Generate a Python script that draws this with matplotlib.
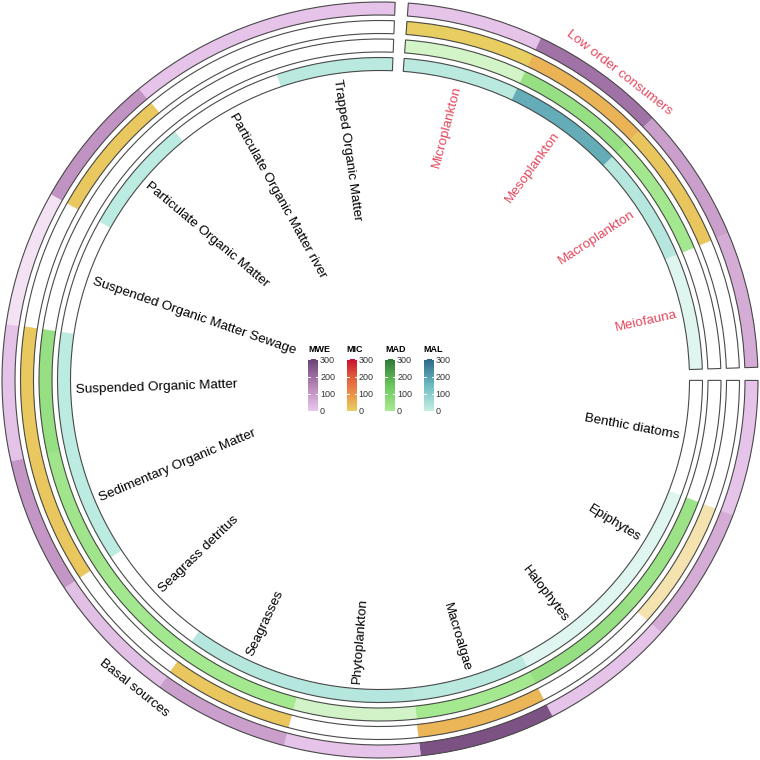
import numpy as np
import matplotlib
matplotlib.use('Agg')
import matplotlib.pyplot as plt
from matplotlib.colors import LinearSegmentedColormap, to_rgba

plt.rcParams['font.family'] = ['Liberation Sans', 'DejaVu Sans']

# sectors and their items (clockwise from the top gap)
low_items = ['Microplankton', 'Mesoplankton', 'Macroplankton', 'Meiofauna']
basal_items = ['Benthic diatoms', 'Epiphytes', 'Halophytes', 'Macroalgae',
               'Phytoplankton', 'Seagrasses', 'Seagrass detritus',
               'Sedimentary Organic Matter', 'Suspended Organic Matter',
               'Suspended Organic Matter Sewage', 'Particulate Organic Matter',
               'Particulate Organic Matter river', 'Trapped Organic Matter']
tracks = ['MWE', 'MIC', 'MAD', 'MAL']

# values per track, low order consumers first then basal sources (None = no data)
mwe = [10, 190, 90, 60,
       10, 60, 10, 265, 10, 90, 20, 110, 12, 8, 115, 10, 10]
mic = [5, 45, 18, None,
       None, 15, None, 40, None, 15, None, 15, 12, None, 14, None, None]
mad = [8, 45, 12, None,
       None, 30, 45, 10, 10, 10, 12, 20, 45, None, None, None, None]
mal = [20, 175, 25, 15,
       None, 15, 15, 20, 25, 25, None, 15, 15, None, 15, None, 20]

# cells drawn lighter
faded = {'MWE': ['Suspended Organic Matter Sewage'],
         'MIC': ['Epiphytes'],
         'MAD': ['Microplankton', 'Phytoplankton'],
         'MAL': ['Meiofauna', 'Epiphytes', 'Halophytes']}

cmaps = {
    'MWE': LinearSegmentedColormap.from_list('mwe', ['#E9C8EC', '#B583B6', '#6B4377']),
    'MIC': LinearSegmentedColormap.from_list('mic', ['#E8D062', '#EC9048', '#E05A3C', '#C8102E']),
    'MAD': LinearSegmentedColormap.from_list('mad', ['#A8EA92', '#6CC65E', '#2E7A36']),
    'MAL': LinearSegmentedColormap.from_list('mal', ['#C4F0E4', '#6FBAC0', '#2C6789']),
}
vmax = 300
values = {'MWE': mwe, 'MIC': mic, 'MAD': mad, 'MAL': mal}

items = low_items + basal_items
gap = 2.0
cell_w = (360 - 2 * gap) / len(items)
start = 85.7
thetas = []
for i in range(len(items)):
    extra = gap if i >= len(low_items) else 0
    thetas.append(start - extra - (i + 0.5) * cell_w)
thetas = np.array(thetas)

r_outer = [378, 359.5, 341, 322.5]
thick = 13

fig = plt.figure(figsize=(7.6, 7.6), dpi=100)
ax = fig.add_axes([0, 0, 1, 1], projection='polar')
ax.set_ylim(0, 380)
ax.set_axis_off()

for k, tr in enumerate(tracks):
    r_in = r_outer[k] - thick
    for i, name in enumerate(items):
        v = values[tr][i]
        if v is None:
            continue
        c = to_rgba(cmaps[tr](v / vmax))
        if name in faded[tr]:
            c = tuple(0.5 * np.array(c[:3]) + 0.5) + (1,)
        ax.bar(np.deg2rad(thetas[i]), thick, width=np.deg2rad(cell_w), bottom=r_in,
               color=c, edgecolor=c, linewidth=0.3)
    # sector borders
    for group, offset in [(low_items, 0), (basal_items, len(low_items))]:
        th0 = thetas[offset] + cell_w / 2
        th1 = thetas[offset + len(group) - 1] - cell_w / 2
        ax.bar(np.deg2rad((th0 + th1) / 2), thick, width=np.deg2rad(th0 - th1),
               bottom=r_in, facecolor='none', edgecolor='#4a4a4a', linewidth=0.8)

# item labels
r_lab = 304
for i, name in enumerate(items):
    th = thetas[i]
    col = '#E5485E' if name in low_items else 'black'
    if np.cos(np.deg2rad(th)) >= 0:
        rot, ha = th, 'right'
    else:
        rot, ha = th - 180, 'left'
    ax.text(np.deg2rad(th), r_lab, name, rotation=rot, rotation_mode='anchor',
            ha=ha, va='center', fontsize=9.7, color=col)

# sector labels
ax.text(np.deg2rad(52.1), 390, 'Low order consumers', rotation=-37.9,
        rotation_mode='anchor', ha='center', va='center', fontsize=9.7, color='#E5485E')
ax.text(np.deg2rad(231.4), 394, 'Basal sources', rotation=-38.6,
        rotation_mode='anchor', ha='center', va='center', fontsize=9.7, color='black')

# legends
W = 760
grad = np.linspace(0, vmax, 256).reshape(-1, 1)
for k, tr in enumerate(tracks):
    x0 = 308 + 38.5 * k
    cax = fig.add_axes([x0 / W, (W - 411) / W, 10 / W, 53 / W])
    cax.imshow(grad, cmap=cmaps[tr], origin='lower', aspect='auto',
               extent=[0, 1, 0, vmax], vmin=0, vmax=vmax)
    cax.set_xlim(0, 1)
    cax.set_ylim(0, vmax + 8)
    for t in [0, 100, 200, 300]:
        cax.plot([0, 0.2], [t, t], color='white', lw=0.7)
        cax.plot([0.8, 1], [t, t], color='white', lw=0.7)
    cax.set_xticks([])
    cax.set_yticks([0, 100, 200, 300])
    cax.yaxis.tick_right()
    cax.tick_params(axis='y', length=0, pad=1.5, labelsize=6.5, labelcolor='#333333')
    for s in cax.spines.values():
        s.set_visible(False)
    fig.text(x0 / W, (W - 349) / W, tr, fontsize=6.5, fontweight='bold',
             ha='left', va='center')

fig.savefig('out.png', dpi=100)
